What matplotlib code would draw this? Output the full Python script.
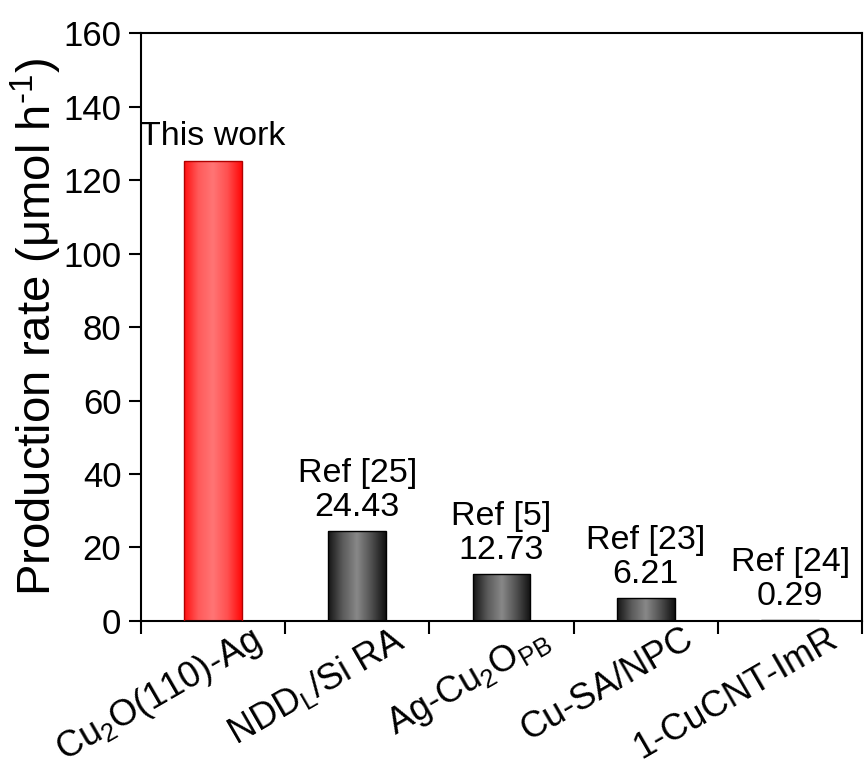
"""
Production rate of the Cu2O(110)-Ag catalyst compared with reported catalysts.
"""

import matplotlib
matplotlib.use('Agg')
import matplotlib.pyplot as plt
import matplotlib.transforms as mtransforms
import numpy as np
from matplotlib.colors import LinearSegmentedColormap

plt.rcParams['font.family'] = ['Liberation Sans', 'DejaVu Sans']
plt.rcParams['mathtext.fontset'] = 'custom'
plt.rcParams['mathtext.rm'] = 'Liberation Sans'
plt.rcParams['mathtext.it'] = 'Liberation Sans'

# Data
# ----------------------------------------------------------------------------

catalysts = ['Cu$_2$O(110)-Ag', 'NDD$_L$/Si RA', 'Ag-Cu$_2$O$_{PB}$',
             'Cu-SA/NPC', '1-CuCNT-ImR']
rates = [125.3, 24.43, 12.73, 6.21, 0.29]     # [umol/h]
sources = ['This work', 'Ref [25]', 'Ref [5]', 'Ref [23]', 'Ref [24]']
show_value = [False, True, True, True, True]

# Bar shading
# ----------------------------------------------------------------------------

red_shade = LinearSegmentedColormap.from_list(
    'red_shade', ['#ff1010', '#ff5a5a', '#ff7575', '#ff5050', '#ff0808'])
gray_shade = LinearSegmentedColormap.from_list(
    'gray_shade', ['#141414', '#5a5a5a', '#888888', '#505050', '#101010'])
shades = [red_shade] + [gray_shade] * 4
edges = ['#b00000'] + ['#000000'] * 4

# Plot
# ----------------------------------------------------------------------------

fig = plt.figure(figsize=(8.64, 7.69), dpi=100)
ax = fig.add_axes([0.163, 0.1925, 0.835, 0.7645])

x = np.arange(len(catalysts))
bars = ax.bar(x, rates, width=0.4, facecolor='none', linewidth=1.0,
              zorder=3)

grad = np.linspace(0, 1, 256).reshape(1, -1)
for bar, cmap, ec in zip(bars, shades, edges):
    bar.set_edgecolor(ec)
    x0, w, h = bar.get_x(), bar.get_width(), bar.get_height()
    img = ax.imshow(grad, cmap=cmap, aspect='auto', extent=(x0, x0 + w, 0, h),
                    zorder=2, interpolation='bilinear')
    img.set_clip_path(bar)

for xi, r, src, sv in zip(x, rates, sources, show_value):
    label = f'{src}\n{r:.2f}' if sv else src
    ax.annotate(label, (xi, r), xytext=(0, 6), textcoords='offset points',
                ha='center', va='bottom', fontsize=24.5, linespacing=1.1)

ax.set_xlim(-0.5, 4.5)
ax.set_ylim(0, 160)
ax.set_yticks(np.arange(0, 161, 20))
ax.set_ylabel('Production rate (μmol h$^{\\text{-1}}$)', fontsize=34)
ax.yaxis.set_label_coords(-0.106, 0.50)

ax.set_xticks(x)
ax.set_xticks(np.arange(-0.5, 4.6, 1), minor=True)
ax.tick_params(axis='x', which='major', length=0, pad=0)
ax.tick_params(axis='x', which='minor', length=9, width=1.5, direction='out')
ax.tick_params(axis='y', length=9, width=1.5, direction='out', labelsize=25,
               pad=5)

# Slanted category names, shifted right of the bar centres
ax.set_xticklabels(catalysts, rotation=30, ha='right', va='top',
                   rotation_mode='anchor', fontsize=26)
shift = mtransforms.ScaledTranslation(0.36, 0.0, fig.dpi_scale_trans)
for lbl in ax.get_xticklabels():
    lbl.set_transform(lbl.get_transform() + shift)

for spine in ax.spines.values():
    spine.set_linewidth(1.5)

fig.savefig('out.png', dpi=100)
